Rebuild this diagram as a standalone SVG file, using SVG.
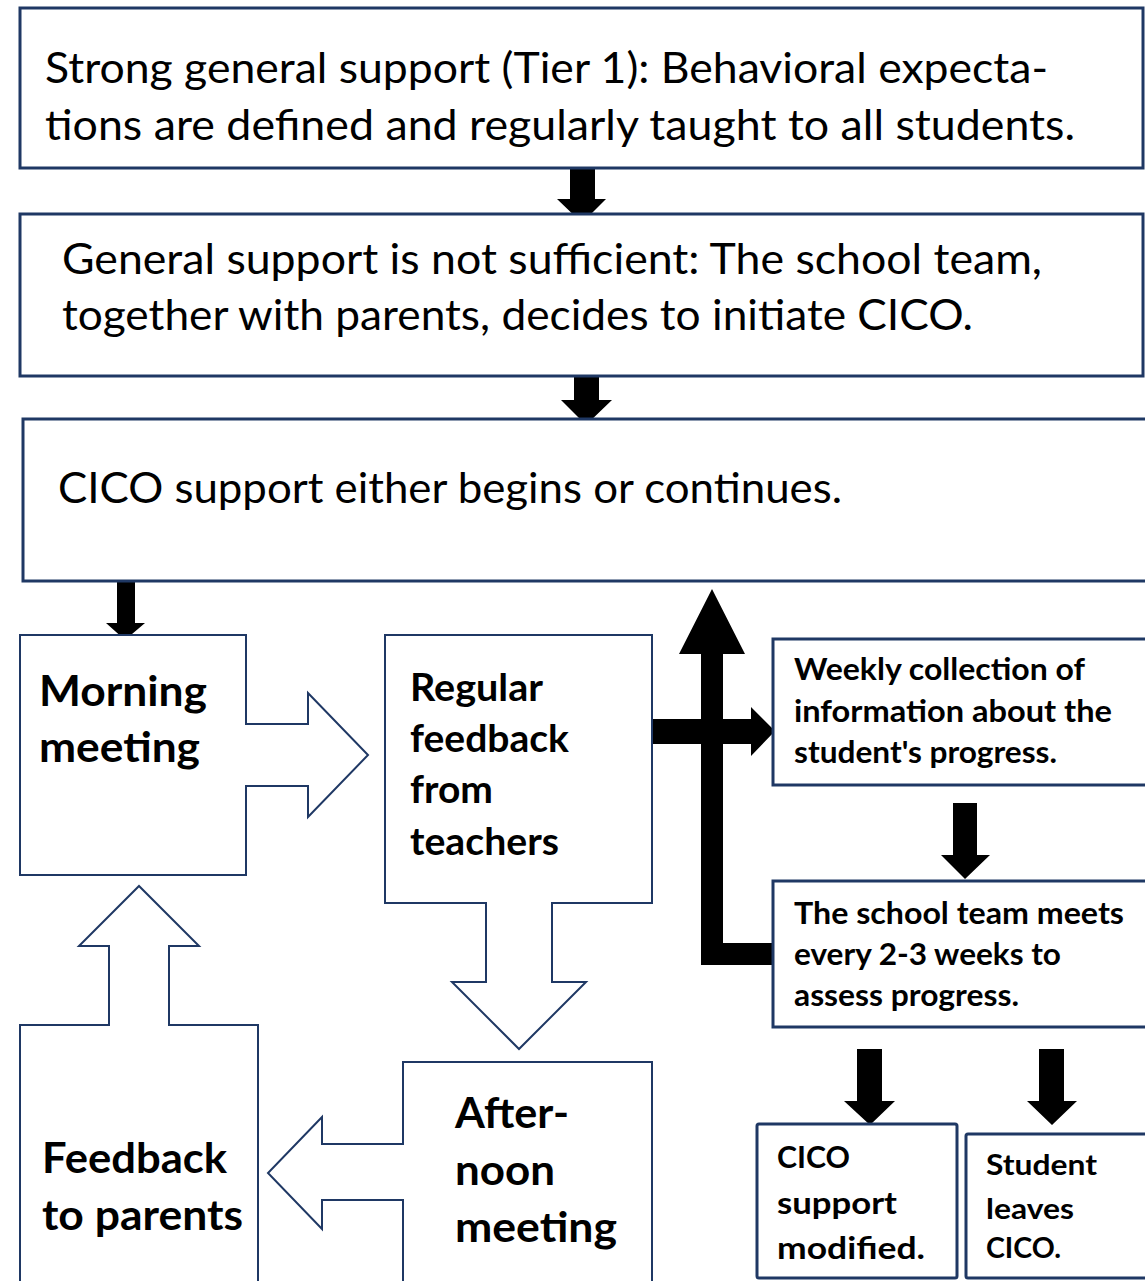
<svg xmlns="http://www.w3.org/2000/svg" width="1145" height="1281" viewBox="0 0 1145 1281">
<style>
.box{fill:#fff;stroke:#1F3864;stroke-width:3}
.call{fill:#fff;stroke:#1F3864;stroke-width:2}
.blk{fill:#000;stroke:none}
.t{font-family:Lato,"Open Sans","Liberation Sans",sans-serif;fill:#000}
.reg{font-size:42px;font-weight:400}
.big{font-size:42px;font-weight:700}
.mid{font-size:38px;font-weight:700}
.sm{font-size:30px;font-weight:700}
.xs{font-size:29px;font-weight:700}
</style>
<rect width="1145" height="1281" fill="#fff"/>
<g id="connectors">
<polygon class="blk" points="570,168 595,168 595,199 606,199 582,223 557,199 570,199"/>
<polygon class="blk" points="574,372 599,372 599,400 612,400 586,425 561,400 574,400"/>
<polygon class="blk" points="117,582 135,582 135,623 145,623 125,640 106,623 117,623"/>
<polygon class="blk" points="652,719 751,719 751,707 775,731 751,756 751,744 652,744"/>
<polygon class="blk" points="773,943 723,943 723,654 745,654 712,589 679,654 701,654 701,965 773,965"/>
<polygon class="blk" points="953,803 977,803 977,855 990,855 965,879 941,855 953,855"/>
<polygon class="blk" points="857,1049 882,1049 882,1101 895,1101 870,1125 844,1101 857,1101"/>
<polygon class="blk" points="1039,1049 1064,1049 1064,1101 1077,1101 1052,1125 1027,1101 1039,1101"/>
</g>
<g id="tier1">
<rect class="box" x="20" y="8" width="1123" height="160"/>
<text class="t reg" x="45" y="83" textLength="1003" lengthAdjust="spacingAndGlyphs">Strong general support (Tier 1): Behavioral expecta-</text>
<text class="t reg" x="45" y="140" textLength="1030" lengthAdjust="spacingAndGlyphs">tions are defined and regularly taught to all students.</text>
</g>
<g id="decide">
<rect class="box" x="20" y="214" width="1123" height="162"/>
<text class="t reg" x="62" y="274" textLength="980" lengthAdjust="spacingAndGlyphs">General support is not sufficient: The school team,</text>
<text class="t reg" x="62" y="330" textLength="911" lengthAdjust="spacingAndGlyphs">together with parents, decides to initiate CICO.</text>
</g>
<g id="cico">
<rect class="box" x="23" y="419" width="1130" height="162"/>
<text class="t reg" x="58" y="503" textLength="784" lengthAdjust="spacingAndGlyphs">CICO support either begins or continues.</text>
</g>
<g id="morning">
<polygon class="call" points="20,635 246,635 246,724 308,724 308,693 368,755 308,817 308,786 246,786 246,875 20,875"/>
<text class="t big" x="39" y="706" textLength="168" lengthAdjust="spacingAndGlyphs">Morning</text>
<text class="t big" x="39" y="762" textLength="161" lengthAdjust="spacingAndGlyphs">meeting</text>
</g>
<g id="feedback">
<polygon class="call" points="385,635 652,635 652,903 552,903 552,982 586,982 519,1049 452,982 486,982 486,903 385,903"/>
<text class="t mid" x="410" y="701" textLength="133" lengthAdjust="spacingAndGlyphs">Regular</text>
<text class="t mid" x="410" y="752" textLength="159" lengthAdjust="spacingAndGlyphs">feedback</text>
<text class="t mid" x="410" y="803" textLength="83" lengthAdjust="spacingAndGlyphs">from</text>
<text class="t mid" x="410" y="855" textLength="149" lengthAdjust="spacingAndGlyphs">teachers</text>
</g>
<g id="afternoon">
<polygon class="call" points="403,1062 652,1062 652,1290 403,1290 403,1200 322,1200 322,1229 268,1173 322,1117 322,1144 403,1144"/>
<text class="t big" x="455" y="1128" textLength="114" lengthAdjust="spacingAndGlyphs">After-</text>
<text class="t big" x="455" y="1185" textLength="100" lengthAdjust="spacingAndGlyphs">noon</text>
<text class="t big" x="455" y="1242" textLength="162" lengthAdjust="spacingAndGlyphs">meeting</text>
</g>
<g id="parents">
<polygon class="call" points="20,1290 20,1025 109,1025 109,946 79,946 139,886 199,946 169,946 169,1025 258,1025 258,1290"/>
<text class="t big" x="42" y="1173" textLength="185" lengthAdjust="spacingAndGlyphs">Feedback</text>
<text class="t big" x="42" y="1230" textLength="201" lengthAdjust="spacingAndGlyphs">to parents</text>
</g>
<g id="weekly">
<rect class="box" x="773" y="639" width="380" height="146"/>
<text class="t sm" x="794" y="680" textLength="291" lengthAdjust="spacingAndGlyphs">Weekly collection of</text>
<text class="t sm" x="794" y="722" textLength="318" lengthAdjust="spacingAndGlyphs">information about the</text>
<text class="t sm" x="794" y="763" textLength="263" lengthAdjust="spacingAndGlyphs">student's progress.</text>
</g>
<g id="team">
<rect class="box" x="773" y="881" width="380" height="146"/>
<text class="t sm" x="794" y="924" textLength="330" lengthAdjust="spacingAndGlyphs">The school team meets</text>
<text class="t sm" x="794" y="965" textLength="267" lengthAdjust="spacingAndGlyphs">every 2-3 weeks to</text>
<text class="t sm" x="794" y="1006" textLength="225" lengthAdjust="spacingAndGlyphs">assess progress.</text>
</g>
<g id="modified">
<rect class="box" x="757" y="1124" width="200" height="154" stroke-width="4" rx="2"/>
<text class="t sm" x="777" y="1168" textLength="73" lengthAdjust="spacingAndGlyphs">CICO</text>
<text class="t sm" x="777" y="1214" textLength="120" lengthAdjust="spacingAndGlyphs">support</text>
<text class="t sm" x="777" y="1259" textLength="148" lengthAdjust="spacingAndGlyphs">modified.</text>
</g>
<g id="leaves">
<rect class="box" x="966" y="1134" width="190" height="144" stroke-width="4" rx="2"/>
<text class="t xs" x="986" y="1175" textLength="111" lengthAdjust="spacingAndGlyphs">Student</text>
<text class="t xs" x="986" y="1219" textLength="88" lengthAdjust="spacingAndGlyphs">leaves</text>
<text class="t xs" x="986" y="1258" textLength="75" lengthAdjust="spacingAndGlyphs">CICO.</text>
</g>
</svg>
